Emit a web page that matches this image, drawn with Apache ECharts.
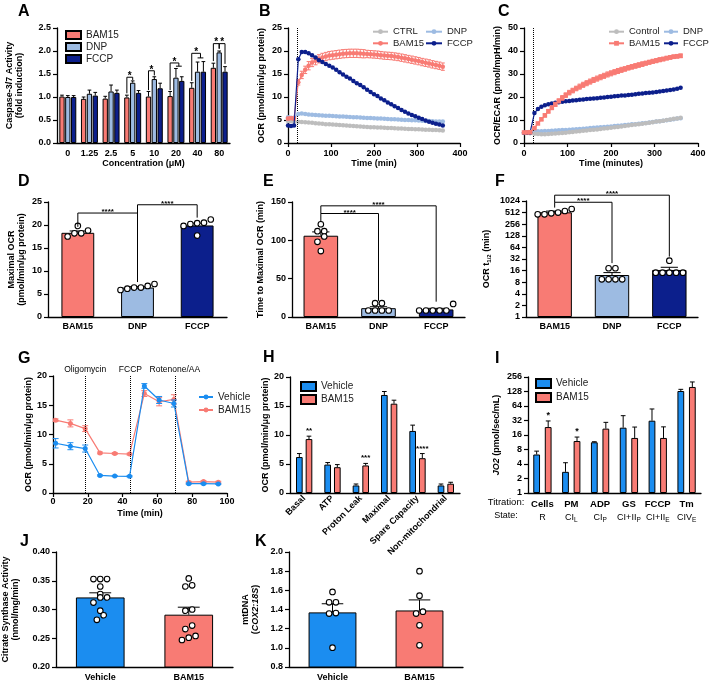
<!DOCTYPE html>
<html><head><meta charset="utf-8">
<script src="https://cdn.jsdelivr.net/npm/echarts@6/dist/echarts.min.js"></script>
<style>html,body{margin:0;padding:0;background:#fff}#c{width:709px;height:682px}</style>
</head><body><div id="c"></div>
<script>
const FF = "'Liberation Sans', Arial, Helvetica, sans-serif";
// ================= DATA =================
// A  Caspase-3/7
const concCats = ['0','1.25','2.5','5','10','20','40','80'];
const casBAM15 = [1.01,0.96,0.965,0.99,1.01,1.02,1.20,1.635];
const casBAM15Err = [0.03,0.04,0.05,0.05,0.11,0.10,0.11,0.10];
const casDNP = [1.00,1.07,1.12,1.31,1.39,1.42,1.55,1.97];
const casDNPErr = [0.03,0.08,0.14,0.04,0.05,0.20,0.21,0.03];
const casFCCP = [1.00,1.03,1.09,1.09,1.19,1.35,1.55,1.55];
const casFCCPErr = [0.03,0.07,0.06,0.05,0.11,0.09,0.22,0.11];
// [catA, seriesA, catB, seriesB, lineY, endA, endB, label]
const casSig = [[3,0,3,1,1.43,1.08,1.37,'*'],[4,0,4,1,1.57,1.15,1.47,'*'],
  [5,0,5,1.5,1.74,1.15,1.67,'*'],[5,1,5,2,1.67,1.67,1.67,''],
  [6,0,6,1.5,1.95,1.35,1.85,'*'],[6,1,6,2,1.85,1.85,1.85,''],
  [7,0,7,1,2.16,1.78,2.05,'*'],[7,1,7,2,2.16,2.05,1.72,'*']];
// B / C time courses
const tB = [0,7,14,24,32,40,48,56,64,72,80,88,96,104,112,120,128,136,144,152,160,168,176,184,192,200,208,216,224,232,240,248,256,264,272,280,288,296,304,312,320,328,336,344,352,360];
const bCTRL = [4.8,4.8,4.7, 4.6,4.55,4.5,4.45,4.4,4.3,4.25,4.2,4.1,4.05, 4.0,3.95,3.9,3.85,3.8,3.75,3.7,3.65,3.6,3.55, 3.5,3.45,3.4,3.38,3.35,3.3,3.27,3.24,3.2,3.17, 3.14,3.1,3.07,3.04,3.0,2.97,2.94,2.9,2.87,2.84, 2.8,2.77,2.74];
const bDNP = [5.6,5.5,5.5, 6.3,6.4,6.3,6.2,6.15,6.1,6.05,6.0,5.95,5.9, 5.85,5.8,5.78,5.74,5.7,5.66,5.62,5.58,5.54,5.5, 5.46,5.42,5.38,5.34,5.3,5.26,5.22,5.18,5.14,5.1, 5.06,5.02,4.98,4.95,4.92,4.88,4.85,4.8,4.78,4.74, 4.7,4.68,4.65];
const bBAM15 = [5.3,5.4,5.3, 13.2,14.8,15.9,16.8,17.5,17.9,18.3,18.6,18.8,19.0, 19.1,19.2,19.3,19.4,19.45,19.5,19.5,19.5,19.45,19.4, 19.35,19.3,19.25,19.2,19.1,19.0,18.95,18.9,18.8,18.7, 18.55,18.4,18.25,18.1,17.95,17.8,17.6,17.45,17.3,17.1, 16.95,16.8,16.6];
const bBAM15Err = [0.3,0.3,0.3, 0.6,0.8,0.8,0.9,0.9,0.9,0.9,0.9,0.9,0.9, 0.9,0.9,0.9,0.9,0.9,0.9,0.9,0.9,0.9,0.9, 0.8,0.8,0.8,0.8,0.8,0.8,0.8,0.8,0.8,0.8, 0.8,0.8,0.8,0.8,0.8,0.8,0.8,0.8,0.8,0.8, 0.8,0.8,0.8];
const bFCCP = [3.8,3.7,3.8, 18.2,19.8,19.8,19.5,19.1,18.6,18.0,17.6,17.2,16.8, 16.4,15.9,15.4,14.9,14.4,14.0,13.5,13.0,12.6,12.1, 11.6,11.1,10.6,10.2,9.7,9.3,8.8,8.4,8.0,7.6, 7.2,6.8,6.4,6.1,5.8,5.5,5.2,4.9,4.6,4.4, 4.2,4.0,3.8];
const cControl = [4.3,4.3,4.2, 4.0,3.9,3.8,3.8,3.9,4.0,4.1,4.2,4.4,4.5, 4.7,4.8,5.0,5.1,5.3,5.4,5.6,5.8,5.9,6.1, 6.3,6.4,6.6,6.8,7.0,7.2,7.4,7.6,7.8,8.0, 8.2,8.4,8.6,8.8,9.0,9.3,9.5,9.7,10.0,10.2, 10.5,10.7,11.0];
const cDNP = [4.5,4.5,4.5, 5.0,5.1,5.1,5.2,5.2,5.3,5.4,5.5,5.6,5.7, 5.8,5.9,6.0,6.1,6.2,6.3,6.5,6.6,6.7,6.8, 7.0,7.1,7.2,7.4,7.5,7.6,7.8,7.9,8.1,8.2, 8.4,8.6,8.7,8.9,9.1,9.3,9.5,9.7,9.9,10.1, 10.3,10.6,10.8];
const cBAM15 = [4.6,4.6,4.7, 6.5,8.5,10.3,12.0,13.8,15.3,16.8,18.3,19.6,20.8, 21.9,22.8,23.7,24.5,25.3,26.0,26.7,27.4,28.0,28.6, 29.2,29.8,30.3,30.8,31.3,31.8,32.2,32.7,33.1,33.5, 33.9,34.3,34.7,35.1,35.5,35.8,36.2,36.5,36.9,37.2, 37.5,37.7,37.9];
const cBAM15Err = [0.2,0.2,0.2, 0.4,0.5,0.6,0.7,0.8,0.8,0.9,0.9,1.0,1.0, 1.0,1.0,1.0,1.1,1.1,1.1,1.1,1.1,1.1,1.1, 1.1,1.1,1.1,1.1,1.1,1.1,1.0,1.0,1.0,1.0, 1.0,1.0,0.9,0.9,0.9,0.9,0.9,0.8,0.8,0.8, 0.8,0.8,0.8];
const cFCCP = [4.5,4.5,4.6, 13.0,14.8,15.8,16.4,16.9,17.2,17.5,17.7,17.9,18.1, 18.3,18.5,18.6,18.8,18.9,19.1,19.2,19.4,19.5,19.7, 19.8,20.0,20.1,20.3,20.4,20.6,20.7,20.9,21.0,21.2, 21.4,21.5,21.7,21.9,22.0,22.2,22.4,22.6,22.8,23.0, 23.3,23.6,24.0];
const injectionTime = 21;
// D / E / F
const drugCats = ['BAM15','DNP','FCCP'];
const dMean = [18.3,6.4,19.9]; const dErr = [0.4,0.2,0.5];
const dDots = [[18.8,19.8,17.5,18.2,18.2],[6.15,6.76,6.4,6.4,7.17,5.87],[20.5,20.2,17.7,21.2,19.8,20.4]];
const dSig = [[0,0,1,0,22.6,19.6,7.6,'****'],[1,0,2,0,24.4,22.6,21.6,'****']];
const eMean = [106,11.5,9.9]; const eErr = [5,1.9,1.4];
const eDots = [[121,112,112,105,98,86],[18,18,8.5,8.5,8.5,8.5],[17,8.5,8.5,8.5,8.5,8.5]];
const eSig = [[0,0,1,0,135,124,21,'****'],[0,0,2,0,145,135,20,'****']];
const fMean = [520,12.3,16.6]; const fErr = [40,1.9,2.9];
const fDots = [[462,564,512,635,491,462],[18.4,18.4,9.5,9.5,9.5,9.5],[28.9,14.1,14.1,14.1,14.1,14.1]];
const fSig = [[0,0,1,0,950,690,25,'****'],[0,0,2,0,1450,950,37,'****']];
// G
const tG = [1.5,10,18.5,27,35.5,44,52.5,61,69.5,78,86.5,95];
const gVeh = [8.5,8.0,7.6,3.0,2.9,2.85,18.3,15.9,15.3,1.6,1.6,1.55];
const gVehErr = [0.8,0.6,0.6,0.1,0.1,0.1,0.4,0.6,0.6,0.1,0.1,0.1];
const gBAM = [12.45,11.9,11.0,6.85,6.75,6.65,17.0,15.6,16.0,1.85,1.95,1.85];
const gBAMErr = [0.2,0.6,0.5,0.15,0.15,0.15,0.5,0.7,0.8,0.15,0.15,0.15];
const gEvents = [18.5,44.5,70];
const gEventNames = ['Oligomycin','FCCP','Rotenone/AA'];
// H
const hCats = ['Basal','ATP','Proton Leak','Maximal','Spare Capacity','Non-mitochondrial'];
const hVeh = [6.2,4.9,1.3,16.9,10.7,1.3]; const hVehErr = [0.6,0.35,0.25,0.6,1.0,0.25];
const hBAM = [9.3,4.45,4.75,15.4,6.0,1.6]; const hBAMErr = [0.5,0.45,0.35,0.6,0.8,0.25];
const hStars = [[0,1,10.7,'**'],[2,1,6.1,'***'],[4,1,7.6,'****']];
// I
const iTitr = ['Cells','PM','ADP','GS','FCCP','Tm'];
const iState = ['R','CI{s|L}','CI{s|P}','CI+II{s|P}','CI+II{s|E}','CIV{s|E}'];
const iVeh = [6.3,2.75,11.3,22.7,31.7,131]; const iVehErr = [1.1,1.5,0.3,17.6,23.8,11];
const iBAM = [23.4,12.0,21.7,13.9,13.9,159]; const iBAMErr = [7.9,2.5,7.6,9.5,9.7,43];
const iStars = [[0,1,41,'*'],[1,1,19,'*']];
// J / K
const grpCats = ['Vehicle','BAM15'];
const jMean = [0.321,0.291]; const jErr = [0.008,0.013];
const jDots = [[0.353,0.353,0.353,0.340,0.327,0.321,0.321,0.312,0.298,0.290,0.282],[0.354,0.342,0.340,0.300,0.298,0.272,0.266,0.254,0.251,0.247]];
const kMean = [1.37,1.39]; const kErr = [0.09,0.11];
const kDots = [[1.583,1.475,1.475,1.363,1.357,1.002],[1.80,1.544,1.377,1.357,1.235,1.026]];

// ================= STYLE =================
const RED='#F87B74', LBLUE='#9DBBE2', NAVY='#0C1F8C', GRAY='#BDBDBD', VBLUE='#1B8DF0';
const drugColors=[RED,LBLUE,NAVY], grpColors=[VBLUE,RED];
const AL={show:true,lineStyle:{color:'#000',width:1.3}};
const TK={show:true,length:4,inside:false,lineStyle:{color:'#000',width:1.2}};
const NOTK={show:false};
const TL={color:'#000',fontSize:9,fontWeight:'bold',fontFamily:FF};
const NT={color:'#000',fontSize:9,fontWeight:'bold',fontFamily:FF,lineHeight:10};
const nm=n=>n.split('@')[0];

// ================= HELPERS =================
function swarm(ys,r){
  const d=2*r+1.2; const idx=ys.map((y,i)=>i).sort((a,b)=>ys[b]-ys[a]);
  const rows=[]; idx.forEach(i=>{const row=rows.find(rw=>Math.abs(ys[rw[0]]-ys[i])<d); if(row)row.push(i); else rows.push([i]);});
  const xs=new Array(ys.length).fill(0);
  rows.forEach(rw=>rw.forEach((i,k)=>{xs[i]=(k-(rw.length-1)/2)*d;}));
  return xs;
}
function catBar(ax,name,vals,colors,bw){
  return {type:'bar',name,xAxisIndex:ax,yAxisIndex:ax,barWidth:bw,z:2,
    data:vals.map((v,i)=>({value:v,itemStyle:{color:colors[i]}})),
    itemStyle:{borderColor:'#000',borderWidth:1}};
}
function barS(ax,name,vals,color,bw,gap){
  return {type:'bar',name,xAxisIndex:ax,yAxisIndex:ax,data:vals,barWidth:bw,barGap:gap,z:2,
    itemStyle:{color,borderColor:'#000',borderWidth:1}};
}
function errBars(ax,means,errs,sIdx,nS,bwFrac,gapFrac,capFrac){
  return {type:'custom',xAxisIndex:ax,yAxisIndex:ax,z:3,silent:true,
    data:means.map((m,i)=>[i,m,m+errs[i]]),
    renderItem(p,api){
      const i=api.value(0),m=api.value(1),t=api.value(2);
      const a=api.coord([0,m]),b=api.coord([1,m]);
      const bw=(b[0]-a[0])*bwFrac; const c=api.coord([i,m]);
      const x=c[0]+(sIdx-(nS-1)/2)*bw*(1+gapFrac);
      const yt=api.coord([i,t])[1]; const h=bw*capFrac/2;
      return {type:'group',children:[
        {type:'line',shape:{x1:x,y1:c[1],x2:x,y2:yt},style:{stroke:'#000',lineWidth:1}},
        {type:'line',shape:{x1:x-h,y1:yt,x2:x+h,y2:yt},style:{stroke:'#000',lineWidth:1}}]};
    }};
}
function dotS(ax,groups,r){
  const data=[]; groups.forEach((g,ci)=>g.forEach((v,j)=>data.push([ci,v,j])));
  return {type:'custom',xAxisIndex:ax,yAxisIndex:ax,z:10,silent:true,data,
    renderItem(p,api){
      const ci=api.value(0),j=api.value(2); const g=groups[ci];
      const ys=g.map(v=>api.coord([ci,v])[1]); const xs=swarm(ys,r);
      const cx=api.coord([ci,g[j]])[0];
      return {type:'circle',shape:{cx:cx+xs[j],cy:ys[j],r},style:{fill:'#fff',stroke:'#000',lineWidth:1.1}};
    }};
}
function sigS(ax,sigs,nS,bwFrac,gapFrac,fs){
  return {type:'custom',xAxisIndex:ax,yAxisIndex:ax,z:20,silent:true,clip:false,
    data:sigs.map((s,i)=>[s[0],s[4],i]),
    renderItem(p,api){
      const s=sigs[api.value(2)];
      const a=api.coord([0,s[4]]),b=api.coord([1,s[4]]);
      const step=(b[0]-a[0])*bwFrac*(1+gapFrac); const off=k=>(k-(nS-1)/2)*step;
      const xa=api.coord([s[0],s[4]])[0]+off(s[1]); const xb=api.coord([s[2],s[4]])[0]+off(s[3]);
      const y=api.coord([s[0],s[4]])[1],ya=api.coord([s[0],s[5]])[1],yb=api.coord([s[0],s[6]])[1];
      const ch=[{type:'polyline',shape:{points:[[xa,ya],[xa,y],[xb,y],[xb,yb]]},style:{stroke:'#000',lineWidth:1,fill:'none'}}];
      if(s[7]) ch.push({type:'text',style:{text:s[7],x:(xa+xb)/2,y:y-1,align:'center',verticalAlign:'middle',fontSize:fs,fontWeight:'bold',fontFamily:FF,fill:'#000'}});
      return {type:'group',children:ch};
    }};
}
function starS(ax,items,nS,bwFrac,gapFrac,fs){
  return {type:'custom',xAxisIndex:ax,yAxisIndex:ax,z:20,silent:true,clip:false,
    data:items.map((s,i)=>[s[0],s[2],i]),
    renderItem(p,api){
      const s=items[api.value(2)];
      const a=api.coord([0,s[2]]),b=api.coord([1,s[2]]);
      const step=(b[0]-a[0])*bwFrac*(1+gapFrac);
      const c=api.coord([s[0],s[2]]);
      return {type:'text',style:{text:s[3],x:c[0]+(s[1]-(nS-1)/2)*step,y:c[1],align:'center',verticalAlign:'middle',fontSize:fs,fontWeight:'bold',fontFamily:FF,fill:'#000'}};
    }};
}
function lineS(ax,name,xs,ys,color,symbol,size,z,extra){
  return Object.assign({type:'line',name,xAxisIndex:ax,yAxisIndex:ax,data:xs.map((x,i)=>[x,ys[i]]),
    symbol,symbolSize:size,showSymbol:true,showAllSymbol:true,z,
    lineStyle:{color,width:1.2},itemStyle:{color}},extra||{});
}
function lineErr(ax,xs,ys,es,color,cap,z){
  return {type:'custom',xAxisIndex:ax,yAxisIndex:ax,z,silent:true,
    data:xs.map((x,i)=>[x,ys[i],es[i]]),
    renderItem(p,api){
      const x=api.value(0),y=api.value(1),e=api.value(2);
      const a=api.coord([x,y+e]),b=api.coord([x,y-e]);
      const st={stroke:color,lineWidth:1};
      return {type:'group',children:[
        {type:'line',shape:{x1:a[0],y1:a[1],x2:b[0],y2:b[1]},style:st},
        {type:'line',shape:{x1:a[0]-cap,y1:a[1],x2:a[0]+cap,y2:a[1]},style:st},
        {type:'line',shape:{x1:b[0]-cap,y1:b[1],x2:b[0]+cap,y2:b[1]},style:st}]};
    }};
}

// ================= LAYOUT =================
const grids=[
 {left:57,top:28,width:173,height:115},
 {left:288,top:28,width:172,height:115},
 {left:524,top:28,width:174,height:115},
 {left:48,top:202,width:179,height:115},
 {left:292,top:202,width:173,height:115},
 {left:526,top:201,width:172,height:116},
 {left:53,top:376,width:174,height:117},
 {left:290,top:377,width:170,height:116},
 {left:528,top:377,width:173,height:116},
 {left:55,top:552,width:178,height:115},
 {left:289,top:552,width:174,height:115}
];
const catX=(gi,data,extra)=>Object.assign({gridIndex:gi,type:'category',data,axisLine:AL,axisTick:NOTK,
  axisLabel:Object.assign({},TL,{margin:6,interval:0}),splitLine:{show:false}},extra||{});
const valX=(gi,min,max,interval,name)=>({gridIndex:gi,type:'value',min,max,interval,axisLine:AL,axisTick:TK,
  axisLabel:Object.assign({},TL,{margin:6}),splitLine:{show:false},
  name,nameLocation:'middle',nameGap:16,nameTextStyle:NT});
const valY=(gi,min,max,interval,name,gap,fmt,extra)=>Object.assign({gridIndex:gi,type:'value',min,max,interval,axisLine:AL,axisTick:TK,
  axisLabel:Object.assign({},TL,{margin:6},fmt?{formatter:fmt}:{}),splitLine:{show:false},
  name,nameLocation:'middle',nameGap:gap,nameTextStyle:NT},extra||{});
const logY=(gi,max,split,name,gap,extra)=>Object.assign({gridIndex:gi,type:'log',logBase:2,min:1,max,splitNumber:split,interval:1,axisLine:AL,axisTick:TK,
  axisLabel:Object.assign({},TL,{margin:6,formatter:v=>String(Math.round(v))}),splitLine:{show:false},
  name,nameLocation:'middle',nameGap:gap,nameTextStyle:NT},extra||{});

const xAxis=[
 catX(0,concCats,{name:'Concentration (\u03bcM)',nameLocation:'middle',nameGap:16,nameTextStyle:NT}),
 valX(1,0,400,100,'Time (min)'),
 valX(2,0,400,100,'Time (minutes)'),
 catX(3,drugCats,{axisLabel:Object.assign({},TL,{margin:5,interval:0})}),
 catX(4,drugCats,{axisLabel:Object.assign({},TL,{margin:5,interval:0})}),
 catX(5,drugCats,{axisLabel:Object.assign({},TL,{margin:5,interval:0})}),
 Object.assign(valX(6,0,100,20,'Time (min)'),{axisLabel:Object.assign({},TL,{margin:4})}),
 catX(7,hCats,{axisLabel:Object.assign({},TL,{margin:4,interval:0,rotate:45})}),
 catX(8,iTitr,{axisLabel:{interval:0,margin:4,color:'#000',fontFamily:FF,fontSize:9,lineHeight:14,
   formatter:(v,i)=>'{t|'+v+'}\n'+iState[i],
   rich:{t:{fontWeight:'bold',fontSize:9.5,fontFamily:FF,color:'#000',lineHeight:14},
         s:{fontSize:6.5,fontFamily:FF,color:'#000',padding:[5,0,0,0]}}}}),
 catX(9,grpCats),
 catX(10,grpCats)
];
const yAxis=[
 valY(0,0,2.5,0.5,'Caspase-3/7 Activity\n(fold induction)',32,v=>v.toFixed(1)),
 valY(1,0,25,5,'OCR (pmol/min/\u03bcg protein)',21),
 valY(2,0,50,10,'OCR/ECAR (pmol/mpH/min)',21),
 valY(3,0,25,5,'Maximal OCR\n(pmol/min/\u03bcg protein)',21),
 valY(4,0,150,50,'Time to Maximal OCR (min)',26),
 logY(5,1024,10,'OCR t{s|1/2} (min)',34,{nameTextStyle:Object.assign({},NT,{rich:{s:{fontSize:6,fontWeight:'bold',fontFamily:FF,color:'#000',padding:[5,0,0,0]}}})}),
 valY(6,0,20,5,'OCR (pmol/min/\u03bcg protein)',16),
 valY(7,0,20,5,'OCR (pmol/min/\u03bcg protein)',18),
 logY(8,256,8,'{i|JO2} (pmol/sec/mL)',26,{nameTextStyle:Object.assign({},NT,{rich:{i:{fontSize:9,fontWeight:'bold',fontStyle:'italic',fontFamily:FF,color:'#000'}}})}),
 valY(9,0.2,0.4,0.05,'Citrate Synthase Activity\n(nmol/mg/min)',35,v=>v.toFixed(2)),
 valY(10,0.8,2.0,0.2,'mtDNA\n({i|COX2:18S})',28,v=>v.toFixed(1),{nameTextStyle:Object.assign({},NT,{rich:{i:{fontSize:9,fontWeight:'bold',fontStyle:'italic',fontFamily:FF,color:'#000',lineHeight:10}}})})
];

// ================= SERIES =================
const series=[];
// A
series.push(barS(0,'BAM15@A',casBAM15,RED,'24.5%','10%'));
series.push(barS(0,'DNP@A',casDNP,LBLUE,'24.5%','10%'));
series.push(barS(0,'FCCP@A',casFCCP,NAVY,'24.5%','10%'));
series.push(errBars(0,casBAM15,casBAM15Err,0,3,0.245,0.1,0.7));
series.push(errBars(0,casDNP,casDNPErr,1,3,0.245,0.1,0.7));
series.push(errBars(0,casFCCP,casFCCPErr,2,3,0.245,0.1,0.7));
series.push(sigS(0,casSig,3,0.245,0.1,10));
// B
series.push(lineS(1,'CTRL@B',tB,bCTRL,GRAY,'circle',4.5,4,{markLine:{silent:true,symbol:['none','none'],label:{show:false},lineStyle:{type:'dotted',color:'#000',width:1},data:[{xAxis:injectionTime}]}}));
series.push(lineS(1,'DNP@B',tB,bDNP,LBLUE,'circle',4.5,5));
series.push(lineS(1,'BAM15@B',tB,bBAM15,RED,'circle',4.5,6));
series.push(lineErr(1,tB,bBAM15,bBAM15Err,RED,2,6));
series.push(lineS(1,'FCCP@B',tB,bFCCP,NAVY,'circle',4.5,7));
// C
series.push(lineS(2,'DNP@C',tB,cDNP,LBLUE,'circle',4.5,4,{markLine:{silent:true,symbol:['none','none'],label:{show:false},lineStyle:{type:'dotted',color:'#000',width:1},data:[{xAxis:injectionTime}]}}));
series.push(lineS(2,'Control@C',tB,cControl,GRAY,'circle',4.5,5));
series.push(lineS(2,'FCCP@C',tB,cFCCP,NAVY,'circle',4.5,6));
series.push(lineS(2,'BAM15@C',tB,cBAM15,RED,'rect',4.5,7));
series.push(lineErr(2,tB,cBAM15,cBAM15Err,RED,2,7));
// D E F
[[3,dMean,dErr,dDots,dSig,'55%',0.55],[4,eMean,eErr,eDots,eSig,'60%',0.6],[5,fMean,fErr,fDots,fSig,'60%',0.6]].forEach(([ax,m,e,dots,sig,bw,bf])=>{
  series.push(catBar(ax,'bars'+ax,m,drugColors,bw));
  series.push(errBars(ax,m,e,0,1,bf,0,0.5));
  series.push(dotS(ax,dots,2.8));
  series.push(sigS(ax,sig,1,bf,0,8));
});
// G
series.push(lineS(6,'BAM15@G',tG,gBAM,RED,'circle',5,4));
series.push(lineErr(6,tG,gBAM,gBAMErr,RED,3,4));
series.push(lineS(6,'Vehicle@G',tG,gVeh,VBLUE,'circle',5,5,{markLine:{silent:true,symbol:['none','none'],
  lineStyle:{type:'dotted',color:'#000',width:1},
  label:{show:true,position:'end',formatter:'{b}',fontSize:8.5,fontFamily:FF,color:'#000',distance:2},
  data:gEvents.map((x,i)=>({xAxis:x,name:gEventNames[i]}))}}));
series.push(lineErr(6,tG,gVeh,gVehErr,VBLUE,3,5));
// H
series.push(barS(7,'Vehicle@H',hVeh,VBLUE,'23.5%','45%'));
series.push(barS(7,'BAM15@H',hBAM,RED,'23.5%','45%'));
series.push(errBars(7,hVeh,hVehErr,0,2,0.235,0.45,0.7));
series.push(errBars(7,hBAM,hBAMErr,1,2,0.235,0.45,0.7));
series.push(starS(7,hStars,2,0.235,0.45,8));
// I
series.push(barS(8,'Vehicle@I',iVeh,VBLUE,'23.5%','70%'));
series.push(barS(8,'BAM15@I',iBAM,RED,'23.5%','70%'));
series.push(errBars(8,iVeh,iVehErr,0,2,0.235,0.7,0.7));
series.push(errBars(8,iBAM,iBAMErr,1,2,0.235,0.7,0.7));
series.push(starS(8,iStars,2,0.235,0.7,9));
// J K
[[9,jMean,jErr,jDots],[10,kMean,kErr,kDots]].forEach(([ax,m,e,dots])=>{
  series.push(catBar(ax,'bars'+ax,m,grpColors,'55%'));
  series.push(errBars(ax,m,e,0,1,0.55,0,0.45));
  series.push(dotS(ax,dots,2.8));
});

// ================= LEGENDS =================
const LT={fontSize:9.5,fontFamily:FF,color:'#222',lineHeight:10};
const LT2={fontSize:10,fontFamily:FF,color:'#222',lineHeight:10};
const legend=[
 {left:60,top:25,orient:'vertical',data:['BAM15@A','DNP@A','FCCP@A'],icon:'rect',itemWidth:15,itemHeight:8,itemGap:2,textStyle:LT2,formatter:nm,selectedMode:false},
 {left:367,top:21.7,orient:'vertical',data:['CTRL@B','BAM15@B'],itemWidth:15,itemHeight:6,itemGap:1.6,textStyle:LT,formatter:nm,selectedMode:false},
 {left:420,top:21.7,orient:'vertical',data:['DNP@B','FCCP@B'],itemWidth:16,itemHeight:6,itemGap:1.6,textStyle:LT,formatter:nm,selectedMode:false},
 {left:603,top:21.7,orient:'vertical',data:['Control@C','BAM15@C'],itemWidth:15,itemHeight:6,itemGap:1.6,textStyle:LT,formatter:nm,selectedMode:false},
 {left:658,top:21.7,orient:'vertical',data:['DNP@C','FCCP@C'],itemWidth:14,itemHeight:6,itemGap:1.6,textStyle:LT,formatter:nm,selectedMode:false},
 {left:193,top:387,orient:'vertical',data:['Vehicle@G','BAM15@G'],itemWidth:14,itemHeight:6,itemGap:3,textStyle:LT2,formatter:nm,selectedMode:false},
 {left:295,top:376,orient:'vertical',data:['Vehicle@H','BAM15@H'],icon:'rect',itemWidth:15,itemHeight:9,itemGap:2,textStyle:LT2,formatter:nm,selectedMode:false},
 {left:530,top:373,orient:'vertical',data:['Vehicle@I','BAM15@I'],icon:'rect',itemWidth:15,itemHeight:9,itemGap:3,textStyle:LT2,formatter:nm,selectedMode:false}
];

// ================= TEXTS =================
const letter=(t,x,y)=>({type:'text',left:x,top:y,style:{text:t,fontSize:16,fontWeight:'bold',fontFamily:FF,fill:'#000'}});
const graphic=[
 letter('A',18,4),letter('B',259,4),letter('C',498,4),
 letter('D',18,174),letter('E',263,174),letter('F',495,174),
 letter('G',18,351),letter('H',263,350),letter('I',495,351),
 letter('J',20,534),letter('K',255,534),
 {type:'text',x:506,y:502,style:{text:'Titration:',align:'center',verticalAlign:'middle',fontSize:9.5,fontFamily:FF,fill:'#000'}},
 {type:'text',x:506,y:516,style:{text:'State:',align:'center',verticalAlign:'middle',fontSize:9,fontFamily:FF,fill:'#000'}}
];

const chart=echarts.init(document.getElementById('c'),null,{renderer:'canvas'});
chart.setOption({animation:false,backgroundColor:'#fff',grid:grids,xAxis,yAxis,series,legend,graphic});
</script></body></html>
